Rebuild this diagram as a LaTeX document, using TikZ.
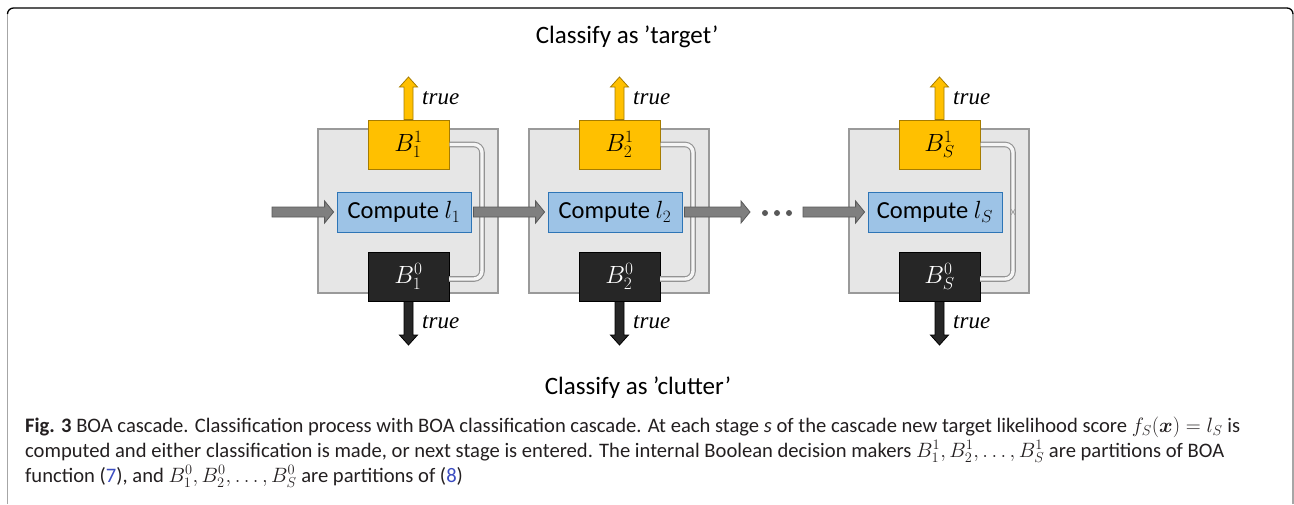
\documentclass[tikz,border=0pt]{standalone}
\usepackage{amsmath}
\usepackage{fontspec}
\setmainfont{Carlito}
\newfontfamily\serifit{Liberation Serif}
\usetikzlibrary{calc}
\definecolor{yfill}{HTML}{FFC000}
\definecolor{yedge}{HTML}{A67C00}
\definecolor{bfill}{HTML}{9DC3E6}
\definecolor{bedge}{HTML}{2E75B6}
\definecolor{kfill}{HTML}{262626}
\definecolor{gfill}{HTML}{E6E6E6}
\definecolor{gedge}{HTML}{9A9A9A}
\definecolor{afill}{HTML}{7F7F7F}
\definecolor{aedge}{HTML}{595959}
\definecolor{capcol}{HTML}{231F20}
\definecolor{linkblue}{HTML}{3B4CC0}
% horizontal block arrow: style, start, tip
\newcommand{\rightBlock}[3]{\path[#1] let \p1=(#2), \p2=(#3) in
  ({\x1},{\y1+5pt}) -- ({\x2-9pt},{\y1+5pt}) -- ({\x2-9pt},{\y1+11pt}) -- ({\x2},{\y1})
  -- ({\x2-9pt},{\y1-11pt}) -- ({\x2-9pt},{\y1-5pt}) -- ({\x1},{\y1-5pt}) -- cycle;}
\newcommand{\upBlock}[3]{\path[#1] let \p1=(#2), \p2=(#3) in
  ({\x1-4.5pt},{\y1}) -- ({\x1-4.5pt},{\y2-10pt}) -- ({\x1-9pt},{\y2-10pt}) -- ({\x1},{\y2})
  -- ({\x1+9pt},{\y2-10pt}) -- ({\x1+4.5pt},{\y2-10pt}) -- ({\x1+4.5pt},{\y1}) -- cycle;}
\newcommand{\downBlock}[3]{\path[#1] let \p1=(#2), \p2=(#3) in
  ({\x1-4.5pt},{\y1}) -- ({\x1-4.5pt},{\y2+10pt}) -- ({\x1-9pt},{\y2+10pt}) -- ({\x1},{\y2})
  -- ({\x1+9pt},{\y2+10pt}) -- ({\x1+4.5pt},{\y2+10pt}) -- ({\x1+4.5pt},{\y1}) -- cycle;}
\tikzset{
  graybox/.style={draw=gedge, fill=gfill, line width=1.2pt, minimum width=180pt, minimum height=164pt, inner sep=0pt},
  yellowbox/.style={draw=yedge, fill=yfill, line width=1pt, minimum width=81pt, minimum height=49pt, inner sep=0pt, font=\fontsize{27}{29}\selectfont},
  bluebox/.style={draw=bedge, fill=bfill, line width=0.8pt, minimum width=134pt, minimum height=40pt, inner sep=0pt, font=\fontsize{24.5}{28}\selectfont},
  blackbox/.style={draw=black, fill=kfill, text=white, line width=1pt, minimum width=81pt, minimum height=49pt, inner sep=0pt, font=\fontsize{27}{29}\selectfont},
  grayarrow/.style={fill=afill, draw=aedge, line width=0.8pt},
  yellowarrow/.style={fill=yfill, draw=yedge, line width=0.8pt},
  blackarrow/.style={fill=kfill, draw=black, line width=0.8pt},
  loopline/.style={draw=gray!85, double=gray!8, line width=1.1pt, double distance=3.4pt, rounded corners=8pt},
  crossmark/.style={draw=gray!80, line width=0.6pt},
  truelabel/.style={font=\serifit\itshape\fontsize{23}{25}\selectfont, anchor=base west, inner sep=0pt},
  titlelabel/.style={font=\fontsize{25}{30}\selectfont, anchor=base, inner sep=0pt},
  caplabel/.style={font=\fontsize{20.6}{24}\selectfont, text=capcol, anchor=base west, inner sep=0pt},
  dot/.style={circle, fill=aedge, inner sep=0pt, minimum size=6pt}
}
\begin{document}
\begin{tikzpicture}[x=1pt,y=-1pt]
\useasboundingbox (0,0) rectangle (1294,504);
% frame
\draw[gray!70, line width=1.5pt] (7.5,504) -- (7.5,14);
\draw[gray!70, line width=1.5pt] (1293,504) -- (1293,14);
\draw[black, line width=1.3pt] (7.5,14) arc[start angle=180, end angle=90, radius=6pt] -- (1287,8) arc[start angle=90, end angle=0, radius=6pt];
% titles
\node[titlelabel] (ttarget) at (627,43) {Classify as ’target’};
\node[titlelabel] (tclutter) at (638,394) {Classify as ’clutter’};
% stages
\foreach \i/\dx/\s in {1/0/1, 2/211/2, 3/531/S} {
  \node[graybox] (g\i) at (408+\dx,211) {};
  \coordinate (cr\i) at (482+\dx,212);
  \coordinate (lt\i) at (482+\dx,144.5);
  \coordinate (lb\i) at (482+\dx,279);
  \coordinate (ke\i) at (449+\dx,279);
  \node[yellowbox] (y\i) at (408.5+\dx,144.5) {$B^1_{\s}$};
  \node[bluebox] (c\i) at (404+\dx,212) {Compute $l_{\s}$};
  \node[blackbox] (k\i) at (408.5+\dx,276.5) {$B^0_{\s}$};
  \draw[loopline] (y\i.east) -- (lt\i) -- (lb\i) -- (ke\i);
  \draw[crossmark] ($(cr\i)+(-2.5,-3.5)$) -- ($(cr\i)+(2.5,3.5)$);
  \draw[crossmark] ($(cr\i)+(-2.5,3.5)$) -- ($(cr\i)+(2.5,-3.5)$);
  \coordinate (ut\i) at (409+\dx,77);
  \coordinate (dt\i) at (409+\dx,345);
  \upBlock{yellowarrow}{y\i.north}{ut\i}
  \downBlock{blackarrow}{k\i.south}{dt\i}
  \node[truelabel] (tu\i) at (422+\dx,104) {true};
  \node[truelabel] (td\i) at (422+\dx,328) {true};
}
% horizontal arrows
\coordinate (in0) at (272,212);
\coordinate (in1) at ($(c1.west)+(-3,0)$);
\rightBlock{grayarrow}{in0}{in1}
\coordinate (a12s) at ($(c1.east)+(2,0)$);
\coordinate (a12e) at ($(c2.west)+(-3,0)$);
\rightBlock{grayarrow}{a12s}{a12e}
\coordinate (a2s) at ($(c2.east)+(2,0)$);
\coordinate (a2e) at (750,212);
\rightBlock{grayarrow}{a2s}{a2e}
\node[dot] (d1) at (765,213) {};
\node[dot] (d2) at (777,213) {};
\node[dot] (d3) at (789,213) {};
\coordinate (a3s) at (803,212);
\coordinate (a3e) at ($(c3.west)+(-3,0)$);
\rightBlock{grayarrow}{a3s}{a3e}
% caption
\node[caplabel] (cap1) at (25,432) {\textbf{Fig. 3} BOA cascade. Classification process with BOA classification cascade. At each stage \textit{s} of the cascade new target likelihood score $f_S(\boldsymbol{x})=l_S$ is};
\node[caplabel] (cap2) at (25,457) {computed and either classification is made, or next stage is entered. The internal Boolean decision makers $B^1_1, B^1_2, \ldots, B^1_S$ are partitions of BOA};
\node[caplabel] (cap3) at (25,482) {function ({\color{linkblue}7}), and $B^0_1, B^0_2, \ldots, B^0_S$ are partitions of ({\color{linkblue}8})};
\end{tikzpicture}
\end{document}
